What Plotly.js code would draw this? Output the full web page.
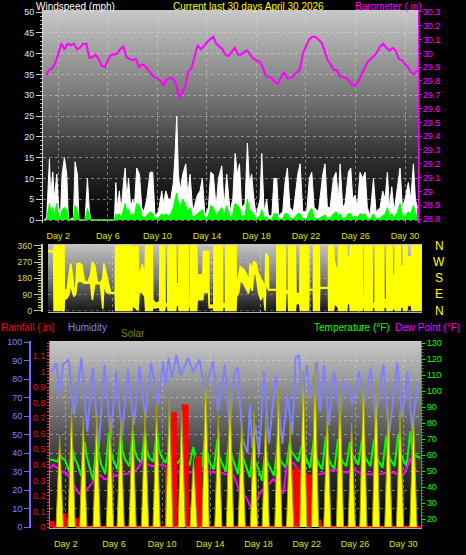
<!DOCTYPE html>
<html><head><meta charset="utf-8">
<script src="https://cdn.plot.ly/plotly-3.0.1.min.js"></script>
<style>html,body{margin:0;padding:0;background:#000;}#chart{width:466px;height:555px;}</style>
</head><body><div id="chart"></div>
<script>
// ---------- DATA ----------
const dayTicks = [2,6,10,14,18,22,26,30];
const dayLabels = ['Day 2','Day 6','Day 10','Day 14','Day 18','Day 22','Day 26','Day 30'];
const dirTicks = [0, 90, 180, 270, 360];
const dirLetters = ['N', 'E', 'S', 'W', 'N'];

// Barometer (inHg), every 6 hours from day 1.00 to day 31.00
const baroStart = 1.0, baroStep = 0.25;
const baro = [29.84,29.88,29.89,29.93, 30.00,30.07,30.03,30.07, 30.06,30.07,30.03,30.04, 30.07,30.07,29.97,29.97,
  29.99,29.96,29.91,29.90, 29.95,29.99,29.99,30.00, 30.03,30.05,29.97,29.96, 29.95,29.96,29.90,29.92,
  29.91,29.88,29.85,29.83, 29.82,29.80,29.77,29.81, 29.82,29.82,29.78,29.68, 29.71,29.76,29.87,29.89,
  29.97,30.06,30.03,30.05, 30.08,30.10,30.12,30.07, 30.05,30.03,29.99,29.98, 30.01,30.04,29.99,29.99,
  30.01,30.02,29.99,29.96, 29.95,29.94,29.90,29.84, 29.83,29.82,29.79,29.78, 29.83,29.86,29.82,29.82,
  29.84,29.86,29.88,30.00, 30.05,30.10,30.12,30.12, 30.10,30.08,30.02,29.95, 29.92,29.88,29.88,29.83,
  29.83,29.82,29.80,29.77, 29.77,29.80,29.85,29.89, 29.94,29.96,29.98,30.01, 30.05,30.07,30.04,30.02,
  30.04,30.02,29.96,29.95, 29.92,29.90,29.86,29.85, 29.88];

// Wind speed (mph): gust (white) and average (green)
const windDay = [0.85,1.06,1.28,1.38,1.55,1.68,1.87,2.03,2.17,2.30,2.49,2.68,2.81,3.22,3.35,3.54,3.67,4.16,4.35,4.51,
  4.62,6.53,6.64,6.77,6.93,7.07,7.26,7.40,7.53,7.67,7.85,8.01,8.14,8.33,8.55,8.74,8.92,9.14,9.41,9.62,
  9.81,10.08,10.35,10.49,10.68,10.89,11.08,11.29,11.43,11.56,11.70,11.83,12.05,12.29,12.45,12.64,12.86,13.04,13.23,13.44,
  13.63,13.85,14.12,14.31,14.52,14.74,14.93,15.20,15.39,15.60,15.87,16.09,16.28,16.46,16.63,16.81,17.08,17.27,17.43,17.62,
  17.76,17.97,18.29,18.43,18.62,18.83,18.97,19.24,19.42,19.64,19.80,20.12,20.31,20.50,20.71,20.98,21.34,21.53,21.74,22.06,
  22.28,22.47,22.66,23.01,23.36,23.54,23.73,23.95,24.22,24.43,24.62,24.76,24.97,25.16,25.43,25.62,25.78,25.97,26.15,26.37,
  26.59,26.78,26.96,27.18,27.45,27.66,27.99,28.20,28.39,28.58,28.74,28.93,29.12,29.39,29.60,29.79,30.00,30.27,30.46,30.68,
  30.84,31.00];
const windGust = [0,0.5,14.7,6,11.5,5,11,3,1,11, 15,11,0,0.5,14,11,0,0,10,2, 0,0,9,3,7,2,9,12.5,5,10,
  3,5,3,12.5,11,3,2,5,11.5,11.5, 1,2,7,4,7,5,5,9,16,25, 11,7,11,13.5,6,11,2,4,6,7, 10,1,3,11.5,11,3,10,13,3,11,
  2,5,16,11,13.5,3,4,18.5,9,11, 6,1,5,16,2,5,1,1,10,10, 1,2,9,12.5,3,2,11,13.5,2,2, 10,11.5,3,2,11,13.5,3,3,10,11.5,
  5,13.5,3,4,11.5,12.5,5,6,3,11.5, 10,11.5,3,1,10,2,3,7,5,11.5, 3,8,2,8,12.5,3,5,9,5,13.5, 5,3];
const windAvg = [0,0,4,2,3,1,4,1,0.3,2.5, 3,2.5,0,0,3.5,2.5,0,0,2.8,1, 0,0,1.5,1,1.5,0.5,2.5,4,2,2.5,
  1,1.5,1,4,3.5,1,0.5,1,2,1.5, 0.3,0.5,1.5,1,1.5,1,1.5,3,5,6.5, 4,3,5,3.5,2,3,0.5,1,1.5,2, 2.5,0.3,1,3.5,3,1,2,3,1,3.5,
  0.5,1.5,4,3.5,3,1,1,5,2.5,2, 1.5,0.3,1,2.5,0.5,0.8,0.2,0.2,1.5,1.5, 0.2,0.3,1.5,1.5,0.5,0.3,1.5,1.5,0.3,0.3,
  2,2.8,0.5,0.3,1,1.2,0.3,0.5,1.5,2, 1,1.5,0.5,0.5,1.5,1.5,0.5,1,0.5,1.5, 1.2,1.5,0.3,0.2,1.5,0.3,0.5,1,1.5,3,
  1,1.5,0.5,2,4,1,1,2,1.5,3.5, 1.5,1];

// Wind direction (degrees): low / high envelope per interval
const dirDay = [0.76,1.22,1.25,2.06,2.08,2.30,2.46,2.60,2.75,2.87,3.00,3.10,3.27,3.50,3.70,3.81,4.00,4.21,4.35,4.55,
  4.75,5.00,5.20,5.29,5.50,5.70,5.83,6.20,6.24,7.55,7.60,8.05,8.13,8.40,8.60,8.67,9.21,9.25,9.48,9.80,
  9.83,10.21,10.25,10.45,10.48,11.10,11.15,11.35,11.37,12.10,12.15,12.28,12.31,12.80,12.85,13.30,13.34,13.78,13.82,14.18,
  14.20,14.88,14.92,15.12,15.15,15.98,16.02,16.20,16.33,16.60,16.87,17.00,17.14,17.30,17.41,17.60,17.82,18.00,18.22,18.34,
  18.40,18.60,18.63,19.28,19.30,19.98,20.02,20.22,20.25,20.79,20.85,21.15,21.19,21.87,21.90,22.25,22.27,22.73,22.76,23.47,
  23.49,23.89,23.95,24.25,24.30,24.97,25.00,25.20,25.24,26.19,26.24,26.36,26.40,27.00,27.05,27.24,27.27,27.94,27.98,28.18,
  28.21,28.62,28.66,28.85,28.89,29.29,29.33,29.53,29.56,29.83,29.87,30.20,30.23,31.04];
const dirLo = [328,328,0,0,60,70,90,150,100,80,90,150,170,160,152,152,152,152,59,150,
  150,150,10,150,100,96,96,96,0,0,30,0,100,100,80,0,0,20,15,20,
  0,0,25,25,0,0,30,30,0,0,30,30,0,0,60,60,100,100,15,15,
  0,0,20,20,0,0,80,96,170,150,110,96,150,110,200,207,96,60,96,0,
  150,120,114,114,0,0,96,96,0,0,40,40,0,0,114,114,0,0,124,124,
  0,0,40,20,0,0,40,40,0,0,20,20,0,0,20,20,0,0,20,20,
  0,0,10,10,0,0,20,20,0,0,30,30,0,0];
const dirHi = [334,334,360,360,110,120,200,263,200,114,130,260,263,255,170,160,160,200,272,250,
  160,155,180,263,200,130,100,100,360,360,350,360,180,260,180,360,360,60,40,50,
  360,360,40,40,360,360,150,150,360,360,60,60,360,360,200,200,330,330,30,30,
  360,360,40,40,360,360,160,190,245,230,200,150,263,230,272,265,200,180,150,96,
  320,300,118,118,360,360,110,110,360,360,96,96,360,360,118,118,360,360,128,128,
  360,360,280,200,360,360,300,300,360,360,60,60,360,360,40,40,360,360,60,60,
  360,360,200,200,360,360,250,250,360,360,300,300,360,360];

// Humidity (%)
const humDay = [0.70,0.95,1.22,1.50,1.78,2.25,2.69,3.30,3.79,4.26,4.74,5.23,5.73,6.20,6.67,7.17,7.66,8.13,8.61,9.10,
  9.66,10.07,10.26,10.54,10.82,11.18,11.54,12.15,12.56,13.11,13.53,14.22,14.64,15.19,15.60,16.01,16.29,16.65,17.07,17.29,
  17.48,17.76,18.03,18.45,18.86,19.42,19.97,20.38,20.80,21.07,21.35,21.63,21.99,22.32,22.82,23.09,23.42,23.84,24.25,24.75,
  25.08,25.50,25.77,26.33,26.74,27.30,27.71,28.35,28.82,29.51,29.92,30.34,30.75,31.17];
const hum = [84,85,88.6,71.5,87.7,90.5,60.7,91.4,51.7,86, 42.7,87.7,48,84,50,85,55,86.8,59,88.6,
  66,89.5,77,91.4,80.5,93,82,91.4,84,90.5, 73,89.5,62.5,87.7,55,84,86,48,40,66,
  42.7,55,39,84,45,82,45,71.5,50,91.4, 93,66,87.7,70,89.5,62.5,87.7,55,84,60.7,
  78.7,75,66,84,66,86,59,87.7,50,88.6, 59,84,51.7,78.7];

// Temperature (F)
const tempDay = [0.70,0.95, 1.28,1.58,1.72,1.95, 2.28,2.58,2.72,2.95, 3.28,3.58,3.72,3.95, 4.28,4.58,4.72,4.95,
  5.28,5.58,5.72,5.95, 6.28,6.58,6.72,6.95, 7.28,7.58,7.72,7.95, 8.28,8.58,8.72,8.95, 9.28,9.58,9.72,9.95,
  10.28,10.58,10.72,10.95, 11.28,11.58,11.72,11.95, 12.28,12.58,12.72,12.95, 13.28,13.58,13.72,13.95,
  14.28,14.58,14.72,14.95, 15.28,15.58,15.72,15.95, 16.28,16.58,16.72,16.95, 17.28,17.58,17.72,17.95,
  18.28,18.58,18.72,18.95, 19.28,19.58,19.72,19.95, 20.28,20.58,20.72,20.95, 21.28,21.58,21.72,21.95,
  22.28,22.58,22.72,22.95, 23.28,23.58,23.72,23.95, 24.28,24.58,24.72,24.95, 25.28,25.58,25.72,25.95,
  26.28,26.58,26.72,26.95, 27.28,27.58,27.72,27.95, 28.28,28.58,28.72,28.95, 29.28,29.58,29.72,29.95,
  30.28,30.58,30.72,30.95, 31.40];
const temp = [57,57, 56,60,58,57, 50,64,58,55, 47,68,60,53, 44,72,62,54, 48,74,63,57, 51,74,62,57, 53,75,63,58,
  55,75,63,58, 56,76,64,59, 55,62,58,57, 55,58,57,56, 54,65,59,55, 52,72,62,55, 51,70,60,55, 50,72,61,55,
  48,68,58,53, 46,66,56,52, 44,64,56,52, 47,68,58,55, 52,68,62,60, 56,66,61,58, 52,70,60,55, 51,72,60,55,
  51,70,60,56, 53,68,61,58, 54,70,61,57, 53,70,60,56, 52,72,61,57, 53,73,62,58, 53,75,64,60, 58];

// Dew point (F)
const dewDay = [0.70,0.97,1.30,1.60,2.08,2.30,2.49,2.80,3.10,3.46,3.70,4.02,4.40,4.85,5.20,5.68,6.10,6.51,7.00,7.61,
  8.00,8.44,8.80,9.27,9.80,10.37,10.90,11.48,11.90,12.31,12.70,13.14,13.70,14.25,14.80,15.30,15.90,16.20,16.46,16.80,
  17.01,17.30,17.56,17.80,18.11,18.40,18.67,19.00,19.22,19.60,20.05,20.20,20.33,20.60,20.88,21.40,21.98,22.50,23.09,23.60,
  24.20,24.70,25.30,25.85,26.40,26.96,27.50,28.07,28.60,29.17,29.60,30.00,30.30,30.55,30.80,31.10];
const dew = [52,53.7,52,50,48.7,46,44,40,36,34, 38,41,44,47.5,45,45,47,47.5,48,49,
  52,57,54,53,54,53,51,49,50,49, 50,51,50,49,49,48,47.5,42,36,35,
  33,28,26,31,36,39,41,43,45,42, 36,45,53,55,55,50,46,47,48,49,
  51,50,49,51,49,48,48,48,49,49, 48,47.5,52,58,53,50];

// Rainfall (in)
const rainDay = [0.70,0.98,1.00,1.72,1.76,1.98,2.00,2.98,3.00,
  10.32,10.34,10.52,10.54,10.86,10.88,11.12,11.14,11.71,11.73,12.09,12.11,12.81,12.83,13.19,13.21,
  20.78,20.80,21.20,21.25,22.30,22.32,23.15,23.17, 31.45];
const rain = [0.03,0.03,0,0,0.08,0.08,0.05,0.05,0,
  0,0.38,0.40,0,0,0.73,0.73,0,0,0.78,0.78,0,0,0.45,0.45,0,
  0,0.36,0.38,0.33,0.33,0.04,0.04,0, 0];

// Solar (W/m2)
const solarDay = [1.20,1.38,1.50,1.62,1.80, 2.19,2.37,2.49,2.61,2.79, 3.16,3.34,3.46,3.58,3.76, 4.27,4.45,4.57,4.69,4.87,
  5.37,5.55,5.67,5.79,5.97, 6.26,6.44,6.56,6.68,6.86, 7.25,7.43,7.55,7.67,7.85, 8.28,8.46,8.58,8.70,8.88,
  9.24,9.42,9.54,9.66,9.84, 10.29,10.47,10.59,10.71,10.89, 11.32,11.50,11.62,11.74,11.92, 12.30,12.48,12.60,12.72,12.90,
  13.31,13.49,13.61,13.73,13.91, 14.36,14.54,14.66,14.78,14.96, 15.33,15.51,15.63,15.75,15.93, 16.30,16.48,16.60,16.72,16.90,
  17.32,17.50,17.62,17.74,17.92, 18.29,18.47,18.59,18.71,18.89, 19.34,19.52,19.64,19.76,19.94, 20.31,20.49,20.61,20.73,20.91,
  21.41,21.59,21.71,21.83,22.01, 22.38,22.56,22.68,22.80,22.98, 23.40,23.58,23.70,23.82,24.00, 24.45,24.63,24.75,24.87,25.05,
  25.42,25.60,25.72,25.84,26.02, 26.39,26.57,26.69,26.81,26.99, 27.44,27.62,27.74,27.86,28.04, 28.46,28.64,28.76,28.88,29.06,
  29.43,29.61,29.73,29.85,30.03, 30.54,30.72,30.84,30.96,31.14];
const solar = [0,354,590,354,0, 0,462,770,462,0, 0,426,710,426,0, 0,432,720,432,0,
  0,432,720,432,0, 0,414,690,414,0, 0,426,710,426,0, 0,453,755,453,0,
  0,474,790,474,0, 0,498,830,498,0, 0,453,755,453,0, 0,267,445,267,0,
  0,600,1000,600,0, 0,432,720,432,0, 0,534,890,534,0, 0,417,695,417,0,
  0,447,745,447,0, 0,432,720,432,0, 0,540,900,540,0, 0,402,670,402,0,
  0,606,1010,606,0, 0,633,1055,633,0, 0,453,755,453,0, 0,534,890,534,0,
  0,402,670,402,0, 0,582,970,582,0, 0,570,950,570,0, 0,462,770,462,0,
  0,453,755,453,0, 0,447,745,447,0];

// ---------- LAYOUT HELPERS ----------
const W = 466, H = 555;
const px = x => x / W;
const py = y => 1 - y / H;
const baroDay = baro.map((v, i) => baroStart + i * baroStep);

function grad(stops) {
  const s = stops.map(st => '<stop offset="' + st[0] + '" stop-color="' + st[1] + '"/>').join('');
  const svg = '<svg xmlns="http://www.w3.org/2000/svg" width="10" height="100" viewBox="0 0 10 100" preserveAspectRatio="none">' +
    '<defs><linearGradient id="g" x1="0" y1="0" x2="0" y2="1">' + s + '</linearGradient></defs>' +
    '<rect x="0" y="0" width="10" height="100" fill="url(#g)"/></svg>';
  return 'data:image/svg+xml;base64,' + btoa(svg);
}
function bgImage(x0, y0, x1, y1, stops) {
  return {source: grad(stops), xref: 'paper', yref: 'paper', x: px(x0), y: py(y0),
    sizex: px(x1) - px(x0), sizey: (y1 - y0) / H, xanchor: 'left', yanchor: 'top',
    sizing: 'stretch', layer: 'below'};
}
const gridC = 'rgba(215,215,215,0.5)';
const FONT = 'Liberation Sans, Arial, sans-serif';
const dayColor = '#d8e800';

function ann(text, x, y, color) {
  return {text: text, x: px(x), y: py(y), xref: 'paper', yref: 'paper', xanchor: 'left', yanchor: 'middle',
    showarrow: false, font: {family: FONT, size: 10, color: color}, borderpad: 0};
}
const letterAnns = dirTicks.map((v, i) => ({text: dirLetters[i], x: px(439), y: v, xref: 'paper', yref: 'y3',
  xanchor: 'center', yanchor: 'middle', showarrow: false, borderpad: 0,
  font: {family: FONT, size: 12, color: '#ffff00'}}));

// ---------- TRACES ----------
const traces = [
  {x: windDay, y: windGust, xaxis: 'x', yaxis: 'y', mode: 'lines', fill: 'tozeroy',
   fillcolor: '#ffffff', line: {color: '#ffffff', width: 1}, hoverinfo: 'skip'},
  {x: windDay, y: windAvg, xaxis: 'x', yaxis: 'y', mode: 'lines', fill: 'tozeroy',
   fillcolor: '#00ff00', line: {color: '#00ff00', width: 1}, hoverinfo: 'skip'},
  {x: baroDay, y: baro, xaxis: 'x', yaxis: 'y2', mode: 'lines',
   line: {color: '#ff00ff', width: 2}, hoverinfo: 'skip'},

  {x: dirDay, y: dirLo, xaxis: 'x2', yaxis: 'y3', mode: 'lines',
   line: {color: '#ffff00', width: 1.5}, hoverinfo: 'skip'},
  {x: dirDay, y: dirHi, xaxis: 'x2', yaxis: 'y3', mode: 'lines', fill: 'tonexty',
   fillcolor: '#ffff00', line: {color: '#ffff00', width: 1.5}, hoverinfo: 'skip'},

  {x: humDay, y: hum, xaxis: 'x3', yaxis: 'y5', mode: 'lines',
   line: {color: '#8080ff', width: 2}, hoverinfo: 'skip'},
  {x: tempDay, y: temp, xaxis: 'x3', yaxis: 'y6', mode: 'lines',
   line: {color: '#00ff00', width: 2}, hoverinfo: 'skip'},
  {x: dewDay, y: dew, xaxis: 'x3', yaxis: 'y6', mode: 'lines',
   line: {color: '#ff00ff', width: 2}, hoverinfo: 'skip'},
  {x: rainDay, y: rain, xaxis: 'x3', yaxis: 'y7', mode: 'lines', fill: 'tozeroy',
   fillcolor: '#ff0000', line: {color: '#ff0000', width: 2.5}, hoverinfo: 'skip'},
  {x: solarDay, y: solar, xaxis: 'x3', yaxis: 'y8', mode: 'lines', fill: 'tozeroy',
   fillcolor: '#ffff00', line: {color: '#a0a000', width: 1}, hoverinfo: 'skip'}
];

// ---------- LAYOUT ----------
const layout = {
  width: W, height: H, margin: {l: 0, r: 0, t: 0, b: 0},
  paper_bgcolor: '#000000', plot_bgcolor: 'rgba(0,0,0,0)', showlegend: false,
  font: {family: FONT, size: 9, color: '#ffffff'},
  images: [
    bgImage(43, 10, 418, 223, [[0, '#c8c8c8'], [0.4, '#787878'], [0.7, '#2e2e2e'], [1, '#000000']]),
    bgImage(48, 244, 422, 312, [[0, '#c4c4c4'], [0.5, '#7a7a7a'], [1, '#141414']]),
    bgImage(50, 341, 421, 528, [[0, '#c8c8c8'], [0.25, '#909090'], [0.52, '#505050'], [0.8, '#1c1c1c'], [1, '#000000']])
  ],
  annotations: [
    ann('Windspeed (mph)', 35, 6, '#ffffff'),
    ann('Current last 30 days April 30 2026', 172, 6, '#ffff00'),
    ann('Barometer (.in)', 354, 6, '#ff00ff'),
    ann('Rainfall (.in)', 0, 327, '#ff0000'),
    ann('Humidity', 67, 327, '#8080ff'),
    ann('Solar', 120, 333, '#808000'),
    ann('Temperature (\u00b0F)', 313, 327, '#00ff00'),
    ann('Dew Point (\u00b0F)', 394, 327, '#ff00ff')
  ].concat(letterAnns),
  // top panel
  xaxis: {domain: [px(43), px(418)], range: [0.76, 31.05], anchor: 'y', tickvals: dayTicks, ticktext: dayLabels,
    tickfont: {color: dayColor, size: 9}, ticks: 'outside', ticklen: 4, tickcolor: 'rgba(0,0,0,0)',
    showgrid: true, gridcolor: gridC, griddash: 'dot', zeroline: false, showline: false, fixedrange: true},
  yaxis: {domain: [py(223), py(10)], range: [-0.72, 50.48], tick0: 0, dtick: 5,
    tickfont: {color: '#dde8ff', size: 9}, ticks: 'outside', ticklen: 6, tickcolor: '#d0d0d0',
    showline: true, linecolor: '#d0d0d0', linewidth: 1,
    minor: {ticks: 'outside', dtick: 1, ticklen: 2, tickcolor: '#b0b0b0', showgrid: false},
    showgrid: true, gridcolor: gridC, griddash: 'dot', zeroline: false, fixedrange: true},
  yaxis2: {overlaying: 'y', side: 'right', anchor: 'x', range: [28.771, 30.314], tick0: 28.8, dtick: 0.1,
    tickfont: {color: '#ff00ff', size: 9}, ticks: 'outside', ticklen: 2, tickcolor: '#ff00ff',
    showline: true, linecolor: '#ff00ff', linewidth: 1,
    minor: {ticks: 'outside', dtick: 0.02, ticklen: 1, tickcolor: '#ff00ff', showgrid: false},
    showgrid: false, zeroline: false, fixedrange: true},
  // middle panel
  xaxis2: {domain: [px(48), px(422)], range: [0.76, 31.05], anchor: 'y3', tickvals: dayTicks,
    showticklabels: false, ticks: '', showgrid: true, gridcolor: gridC, griddash: 'dot',
    zeroline: false, showline: true, linecolor: '#b0b0b0', fixedrange: true},
  yaxis3: {domain: [py(312), py(244)], range: [-8, 371], tickvals: dirTicks,
    tickfont: {color: '#d8d850', size: 9}, ticks: 'outside', ticklen: 7, tickcolor: '#c0c0c0',
    showline: true, linecolor: '#c8c8c8', linewidth: 2,
    minor: {ticks: 'outside', dtick: 15, ticklen: 3, tickcolor: '#d8d850', showgrid: false},
    showgrid: true, gridcolor: 'rgba(215,215,215,0.35)', griddash: 'dot', zeroline: false, fixedrange: true},
  // bottom panel
  xaxis3: {domain: [px(50), px(421)], range: [0.70, 31.47], anchor: 'y5', tickvals: dayTicks, ticktext: dayLabels,
    tickfont: {color: dayColor, size: 9}, ticks: 'outside', ticklen: 7, tickcolor: 'rgba(0,0,0,0)',
    showgrid: true, gridcolor: gridC, griddash: 'dot', zeroline: false, showline: true, linecolor: '#b0b0b0',
    fixedrange: true},
  yaxis5: {domain: [py(528), py(341)], range: [-0.54, 100.54], tick0: 0, dtick: 10, anchor: 'free', position: px(30),
    side: 'left', tickfont: {color: '#8080ff', size: 9}, ticks: 'outside', ticklen: 5, tickcolor: '#6a6aff',
    showline: true, linecolor: '#6a6aff', linewidth: 2,
    showgrid: true, gridcolor: gridC, griddash: 'dot', zeroline: false, fixedrange: true},
  yaxis6: {overlaying: 'y5', side: 'right', anchor: 'x3', range: [14.375, 131.25], tick0: 20, dtick: 10,
    tickfont: {color: '#00ff00', size: 9}, ticks: 'outside', ticklen: 3, tickcolor: '#00ff00',
    showline: true, linecolor: '#00c000', linewidth: 1,
    minor: {ticks: 'outside', dtick: 2, ticklen: 1, tickcolor: '#00c000', showgrid: false},
    showgrid: false, zeroline: false, fixedrange: true},
  yaxis7: {overlaying: 'y5', side: 'left', anchor: 'x3', range: [-0.0064, 1.196], tick0: 0, dtick: 0.1,
    tickfont: {color: '#ff0000', size: 9}, ticks: 'outside', ticklen: 2, tickcolor: '#ff3030',
    showline: true, linecolor: '#ff5050', linewidth: 1,
    minor: {ticks: 'outside', dtick: 0.02, ticklen: 2, tickcolor: '#ff3030', showgrid: false},
    showgrid: false, zeroline: false, fixedrange: true},
  yaxis8: {overlaying: 'y5', anchor: 'x3', range: [-6.5, 1200], visible: false, fixedrange: true}
};

Plotly.newPlot('chart', traces, layout, {staticPlot: true, displayModeBar: false});
</script></body></html>
